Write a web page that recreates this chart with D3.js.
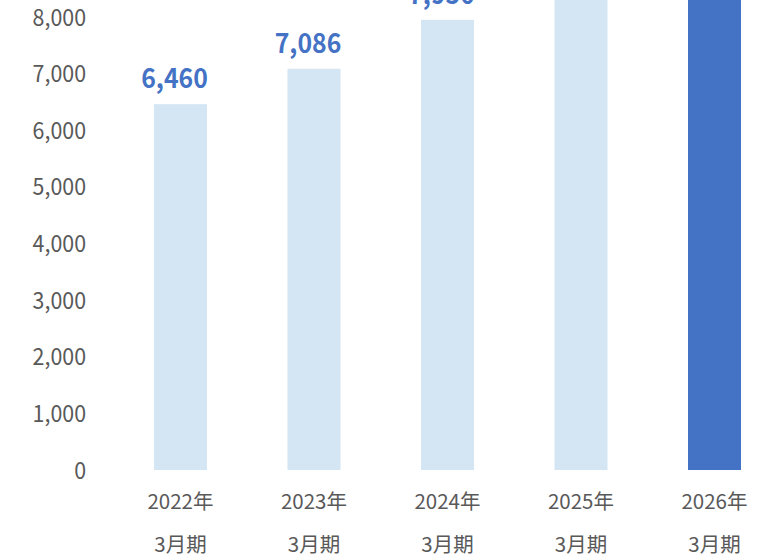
<!DOCTYPE html>
<html><head><meta charset="utf-8">
<script src="https://cdn.jsdelivr.net/npm/d3@7"></script>
<style>body{margin:0;background:#fff;} svg{display:block;}</style>
</head><body>
<script>
const years = ["2022年", "2023年", "2024年", "2025年", "2026年"];
const periods = ["3月期", "3月期", "3月期", "3月期", "3月期"];
const values = [6460, 7086, 7950, 8800, 9300];
const yTicks = [0, 1000, 2000, 3000, 4000, 5000, 6000, 7000, 8000];
const highlight = [false, false, false, false, true];

const W = 757, H = 558;
const svg = d3.select("body").append("svg").attr("width", W).attr("height", H);
const font = "'Noto Sans CJK JP', 'Noto Sans', sans-serif";

const x = d3.scaleBand().domain(years).range([73.5, 821.5]).padding(0.603);
const y = d3.scaleLinear().domain([0, 8000]).range([470, 17]);

const yAxis = d3.axisLeft(y).tickValues(yTicks).tickSize(0).tickPadding(0).tickFormat(d3.format(","));
const gy = svg.append("g").attr("transform", "translate(86,0)").call(yAxis);
gy.select(".domain").remove();
gy.selectAll("text").attr("font-family", font).attr("font-size", 23).attr("fill", "#595959")
  .attr("dy", "0.35em").attr("x", 0).attr("transform", "scale(0.93,1)");

svg.selectAll("rect.bar").data(values).join("rect").attr("class", "bar")
  .attr("x", (d, i) => x(years[i])).attr("width", x.bandwidth())
  .attr("y", d => y(d)).attr("height", d => y(0) - y(d))
  .attr("fill", (d, i) => highlight[i] ? "#4472C4" : "#D4E5F3");

svg.selectAll("text.val").data(values).join("text").attr("class", "val")
  .attr("transform", (d, i) => `translate(${x(years[i]) + x.bandwidth() / 2 - 6},${y(d) - 16}) scale(0.92,1)`)
  .attr("text-anchor", "middle").attr("font-family", font).attr("font-weight", "bold")
  .attr("font-size", 27).attr("fill", "#4472C4").text(d => d3.format(",")(d));

const xl = svg.append("g");
xl.selectAll("text.yr").data(years).join("text").attr("class", "yr")
  .attr("x", d => x(d) + x.bandwidth() / 2).attr("y", 502).attr("dy", "0.35em")
  .attr("text-anchor", "middle").attr("font-family", font).attr("font-size", 20.5).attr("fill", "#595959").text(d => d);
xl.selectAll("text.pd").data(periods).join("text").attr("class", "pd")
  .attr("x", (d, i) => x(years[i]) + x.bandwidth() / 2).attr("y", 545).attr("dy", "0.35em")
  .attr("text-anchor", "middle").attr("font-family", font).attr("font-size", 20.5).attr("fill", "#595959").text(d => d);
</script>
</body></html>
